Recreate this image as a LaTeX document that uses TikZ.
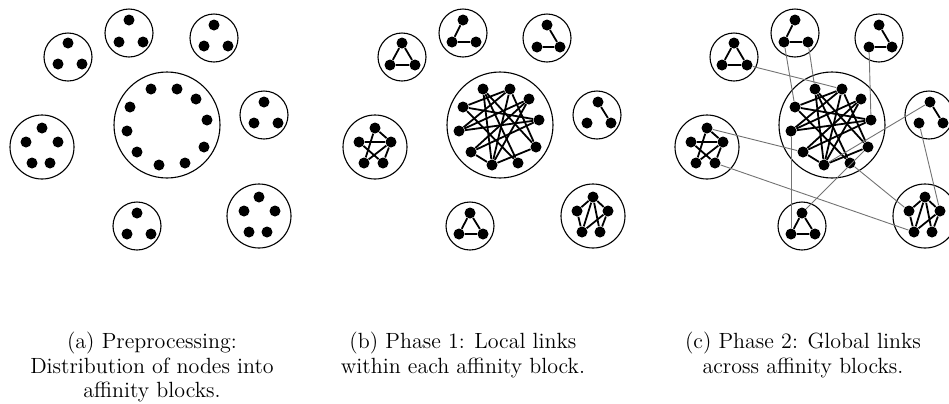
\documentclass[tikz,border=0pt]{standalone}
\begin{document}
\begin{tikzpicture}[x=0.5pt,y=-0.5pt,
  dot/.style={circle,fill=black,inner sep=0pt,minimum size=5.5pt},
  block/.style={circle,draw=black,line width=0.55pt,inner sep=0pt,minimum size=24pt},
  bigblock/.style={block,minimum size=32pt},
  hugeblock/.style={block,minimum size=53pt},
  link/.style={line width=0.9pt},
  glink/.style={line width=0.45pt,draw=black!55},
  captext/.style={anchor=north,align=center,inner sep=0pt,font=\fontsize{11}{12.25}\selectfont}]
\useasboundingbox (0,0) rectangle (949,403);
\clip (0,0) rectangle (949,403);

% ---------- panel (a) ----------
\node[block] (a-B1) at (68,57) {};
\node[dot] (a-1t) at (68,43) {}; \node[dot] (a-1l) at (58,64) {}; \node[dot] (a-1r) at (82,64) {};
\node[block] (a-B2) at (129,33) {};
\node[dot] (a-2t) at (129,20) {}; \node[dot] (a-2l) at (119,42) {}; \node[dot] (a-2r) at (143,42) {};
\node[block] (a-B3) at (214,38) {};
\node[dot] (a-3t) at (214,25) {}; \node[dot] (a-3l) at (204,46) {}; \node[dot] (a-3r) at (228,46) {};
\node[block] (a-B5) at (264,115) {};
\node[dot] (a-5t) at (264,102) {}; \node[dot] (a-5l) at (254,123) {}; \node[dot] (a-5r) at (278,123) {};
\node[bigblock] (a-B6) at (42,147) {};
\node[dot] (a-6t) at (42,128) {}; \node[dot] (a-6l) at (26,142) {}; \node[dot] (a-6r) at (58,142) {};
\node[dot] (a-6bl) at (32,163) {}; \node[dot] (a-6br) at (50,163) {};
\node[block] (a-B7) at (137,226) {};
\node[dot] (a-7t) at (137,213) {}; \node[dot] (a-7l) at (127,234) {}; \node[dot] (a-7r) at (151,234) {};
\node[bigblock] (a-B8) at (259,216) {};
\node[dot] (a-8t) at (259,197) {}; \node[dot] (a-8l) at (244,211) {}; \node[dot] (a-8r) at (275,211) {};
\node[dot] (a-8bl) at (249,232) {}; \node[dot] (a-8br) at (267,232) {};
\node[hugeblock] (a-BB) at (167,125) {};
\foreach \i/\x/\y in {1/151/89,2/177/89,3/196/99,4/207/120,5/204/147,6/185/163,7/159/165,8/137/152,9/127/131,10/130/107}
  \node[dot] (a-b\i) at (\x,\y) {};

% ---------- panels (b) and (c) ----------
\foreach \p/\dx in {b/0,c/332}{
\begin{scope}[shift={(\dx,0)}]
\node[block] (\p-B1) at (402,57) {};
\node[dot] (\p-1t) at (402,43) {}; \node[dot] (\p-1l) at (390,65) {}; \node[dot] (\p-1r) at (415,65) {};
\node[block] (\p-B2) at (463,33) {};
\node[dot] (\p-2t) at (463,20) {}; \node[dot] (\p-2l) at (452,42) {}; \node[dot] (\p-2r) at (476,42) {};
\node[block] (\p-B3) at (547,38) {};
\node[dot] (\p-3t) at (547,25) {}; \node[dot] (\p-3l) at (537,47) {}; \node[dot] (\p-3r) at (560,47) {};
\node[block] (\p-B5) at (597,115) {};
\node[dot] (\p-5t) at (598,102) {}; \node[dot] (\p-5l) at (587,123) {}; \node[dot] (\p-5r) at (611,123) {};
\node[bigblock] (\p-B6) at (375,147) {};
\node[dot] (\p-6t) at (375,128) {}; \node[dot] (\p-6l) at (359,142) {}; \node[dot] (\p-6r) at (391,142) {};
\node[dot] (\p-6bl) at (364,163) {}; \node[dot] (\p-6br) at (383,163) {};
\node[block] (\p-B7) at (470,226) {};
\node[dot] (\p-7t) at (470,213) {}; \node[dot] (\p-7l) at (459,234) {}; \node[dot] (\p-7r) at (483,234) {};
\node[bigblock] (\p-B8) at (593,216) {};
\node[dot] (\p-8t) at (593,197) {}; \node[dot] (\p-8l) at (577,211) {}; \node[dot] (\p-8r) at (608,211) {};
\node[dot] (\p-8bl) at (582,232) {}; \node[dot] (\p-8br) at (600,232) {};
\node[hugeblock] (\p-BB) at (500,125) {};
\foreach \i/\x/\y in {1/483/89,2/510/89,3/529/99,4/463/107,5/539/120,6/459/131,7/536/147,8/471/152,9/492/165,10/518/163}
  \node[dot] (\p-b\i) at (\x,\y) {};
% local links
\draw[link] (\p-1t) -- (\p-1l) -- (\p-1r) -- (\p-1t);
\draw[link] (\p-2t) -- (\p-2l) -- (\p-2r);
\draw[link] (\p-3t) -- (\p-3r) -- (\p-3l);
\draw[link] (\p-5t) -- (\p-5r);
\draw[link] (\p-7t) -- (\p-7l) -- (\p-7r) -- (\p-7t);
\draw[link] (\p-6t) -- (\p-6r) (\p-6t) -- (\p-6bl) (\p-6l) -- (\p-6r)
            (\p-6l) -- (\p-6br) (\p-6r) -- (\p-6bl) (\p-6r) -- (\p-6br);
\draw[link] (\p-8t) -- (\p-8l) (\p-8t) -- (\p-8r) (\p-8t) -- (\p-8bl) (\p-8t) -- (\p-8br)
            (\p-8l) -- (\p-8bl) (\p-8r) -- (\p-8bl) (\p-8r) -- (\p-8br);
\foreach \u/\v in {1/9,1/10,1/7,2/4,2/9,2/7,2/6,3/6,3/9,3/8,4/5,4/10,5/8,5/6,7/9,8/9}
  \draw[link] (\p-b\u) -- (\p-b\v);
\end{scope}
}

% ---------- global links (c) ----------
\draw[glink] (c-1r) -- (c-b2);
\draw[glink] (c-2l) -- (c-b4);
\draw[glink] (c-2r) -- (c-b1);
\draw[glink] (c-3l) -- (c-b5);
\draw[glink] (c-6t) -- (c-b8);
\draw[glink] (c-6br) -- (c-8bl);
\draw[glink] (c-b6) -- (c-7l);
\draw[glink] (c-7t) -- (c-b7);
\draw[glink] (c-5t) -- (c-b9);
\draw[glink] (c-5l) -- (c-8r);
\draw[glink] (c-b10) -- (c-8l);

% ---------- captions ----------
\node[captext] (capa) at (152,332) {(a) Preprocessing:\\Distribution of nodes into\\affinity blocks.};
\node[captext] (capb) at (463,332) {(b) Phase 1: Local links\\within each affinity block.};
\node[captext] (capc) at (803,332) {(c) Phase 2: Global links\\across affinity blocks.};
\end{tikzpicture}
\end{document}
